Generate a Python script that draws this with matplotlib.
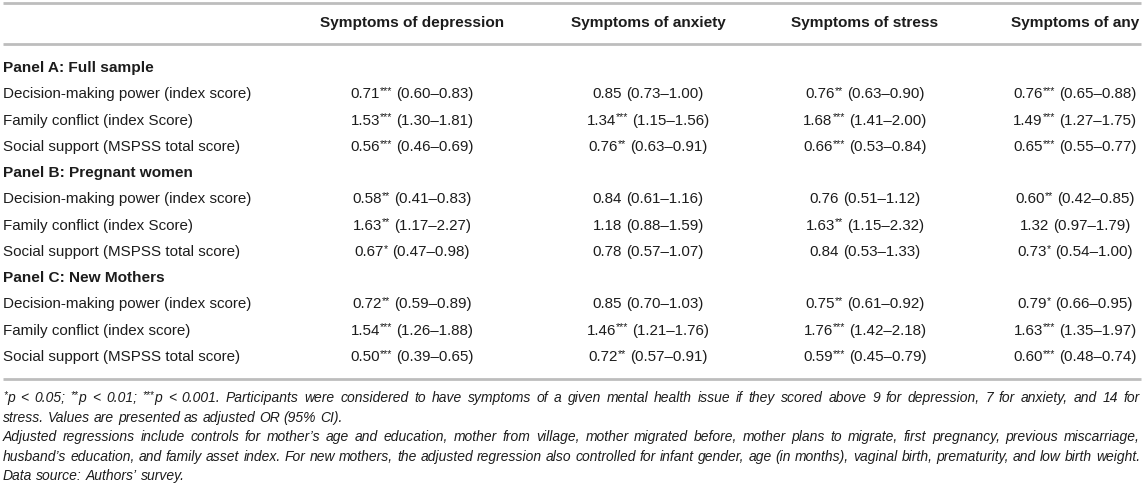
import matplotlib
matplotlib.use("Agg")
import matplotlib.pyplot as plt

plt.rcParams['font.family'] = ['Liberation Sans', 'DejaVu Sans']

columns = ["Symptoms of depression", "Symptoms of anxiety", "Symptoms of stress", "Symptoms of any"]
panels = ["Panel A: Full sample", "Panel B: Pregnant women", "Panel C: New Mothers"]
row_labels = [
    ["Decision-making power (index score)", "Family conflict (index Score)", "Social support (MSPSS total score)"],
    ["Decision-making power (index score)", "Family conflict (index Score)", "Social support (MSPSS total score)"],
    ["Decision-making power (index score)", "Family conflict (index score)", "Social support (MSPSS total score)"],
]

# Adjusted OR, lower CI, upper CI, significance stars; rows in panel order (A1..A3, B1..B3, C1..C3)
depression_or = [0.71, 1.53, 0.56, 0.58, 1.63, 0.67, 0.72, 1.54, 0.50]
depression_lo = [0.60, 1.30, 0.46, 0.41, 1.17, 0.47, 0.59, 1.26, 0.39]
depression_hi = [0.83, 1.81, 0.69, 0.83, 2.27, 0.98, 0.89, 1.88, 0.65]
depression_st = ["***", "***", "***", "**", "**", "*", "**", "***", "***"]

anxiety_or = [0.85, 1.34, 0.76, 0.84, 1.18, 0.78, 0.85, 1.46, 0.72]
anxiety_lo = [0.73, 1.15, 0.63, 0.61, 0.88, 0.57, 0.70, 1.21, 0.57]
anxiety_hi = [1.00, 1.56, 0.91, 1.16, 1.59, 1.07, 1.03, 1.76, 0.91]
anxiety_st = ["", "***", "**", "", "", "", "", "***", "**"]

stress_or = [0.76, 1.68, 0.66, 0.76, 1.63, 0.84, 0.75, 1.76, 0.59]
stress_lo = [0.63, 1.41, 0.53, 0.51, 1.15, 0.53, 0.61, 1.42, 0.45]
stress_hi = [0.90, 2.00, 0.84, 1.12, 2.32, 1.33, 0.92, 2.18, 0.79]
stress_st = ["**", "***", "***", "", "**", "", "**", "***", "***"]

any_or = [0.76, 1.49, 0.65, 0.60, 1.32, 0.73, 0.79, 1.63, 0.60]
any_lo = [0.65, 1.27, 0.55, 0.42, 0.97, 0.54, 0.66, 1.35, 0.48]
any_hi = [0.88, 1.75, 0.77, 0.85, 1.79, 1.00, 0.95, 1.97, 0.74]
any_st = ["***", "***", "***", "**", "", "*", "*", "***", "***"]

# footnote lines; leading asterisks of a word are set as superscript; True = justified line
footnotes = [
    ("*p < 0.05; **p < 0.01; ***p < 0.001. Participants were considered to have symptoms of a given mental health issue if they scored above 9 for depression, 7 for anxiety, and 14 for", True),
    ("stress. Values are presented as adjusted OR (95% CI).", False),
    ("Adjusted regressions include controls for mother\u2019s age and education, mother from village, mother migrated before, mother plans to migrate, first pregnancy, previous miscarriage,", True),
    ("husband\u2019s education, and family asset index. For new mothers, the adjusted regression also controlled for infant gender, age (in months), vaginal birth, prematurity, and low birth weight.", True),
    ("Data source: Authors\u2019 survey.", False),
]

series = [
    (depression_or, depression_lo, depression_hi, depression_st),
    (anxiety_or, anxiety_lo, anxiety_hi, anxiety_st),
    (stress_or, stress_lo, stress_hi, stress_st),
    (any_or, any_lo, any_hi, any_st),
]

W, H = 1144, 486
fig = plt.figure(figsize=(W / 100, H / 100), dpi=100)
ax = fig.add_axes([0, 0, 1, 1])
ax.set_xlim(0, W)
ax.set_ylim(H, 0)
ax.axis("off")
renderer = fig.canvas.get_renderer()

TXT = "#1c1c1c"
LINE = "#bdbdbd"
col_x = [412, 648, 865, 1075]
label_x = 3
fs = 10.9
fs_bold = 11.1
sup_ratio = 0.72
sup_raise = 4.0
LEFT, RIGHT = 3, 1140


def text_width(s, size, style="normal", weight="normal"):
    t = ax.text(0, 0, s, fontsize=size, style=style, fontweight=weight)
    w = t.get_window_extent(renderer).width
    t.remove()
    return w


def space_width(size, style="normal"):
    return text_width("0 0", size, style) - text_width("00", size, style)


def word_parts(word):
    stars = len(word) - len(word.lstrip("*"))
    parts = []
    if stars:
        parts.append((word[:stars], True))
    if word[stars:]:
        parts.append((word[stars:], False))
    return parts


def parts_width(parts, size, style):
    return sum(text_width(s, size * (sup_ratio if sup else 1), style) for s, sup in parts)


def draw_run(x, baseline, parts, size, style="normal"):
    cur = x
    for s, sup in parts:
        sz = size * sup_ratio if sup else size
        ax.text(cur, baseline - (sup_raise * sz / size / sup_ratio if sup else 0), s,
                ha="left", va="baseline", fontsize=sz, style=style, color=TXT)
        cur += text_width(s, sz, style)
    return cur


# rules
for y in (3, 44, 379):
    ax.plot([3, 1141], [y, y], color=LINE, lw=2, solid_capstyle="butt")

base_off = 5
# header
for cx, name in zip(col_x, columns):
    ax.text(cx, 22 + base_off, name, ha="center", va="baseline", fontsize=fs_bold,
            fontweight="bold", color=TXT)

sp_body = space_width(fs)
y = 67
step = 26.25
idx = 0
for p, panel in enumerate(panels):
    ax.text(label_x, y + base_off, panel, ha="left", va="baseline", fontsize=fs_bold,
            fontweight="bold", color=TXT)
    y += step
    for r, lab in enumerate(row_labels[p]):
        ax.text(label_x, y + base_off, lab, ha="left", va="baseline", fontsize=fs, color=TXT)
        for cx, (o, lo, hi, st) in zip(col_x, series):
            head = [(f"{o[idx]:.2f}", False)]
            if st[idx]:
                head.append((st[idx], True))
            tail = [(f"({lo[idx]:.2f}\u2013{hi[idx]:.2f})", False)]
            total = parts_width(head, fs, "normal") + sp_body + parts_width(tail, fs, "normal")
            x0 = cx - total / 2
            x1 = draw_run(x0, y + base_off, head, fs)
            draw_run(x1 + sp_body, y + base_off, tail, fs)
        idx += 1
        y += step

# footnotes: pick a size at which every justified line fits the table width, then justify
probe_size = 10.0
width_avail = RIGHT - LEFT
fits = []
for line, just in footnotes:
    words = line.split(" ")
    natural = sum(parts_width(word_parts(w), probe_size, "italic") for w in words) \
        + (len(words) - 1) * space_width(probe_size, "italic")
    fits.append(probe_size * width_avail / natural)
fn_size = min(f for f, (_, j) in zip(fits, footnotes) if j) * 0.995
sp_fn = space_width(fn_size, "italic")

fy = [398, 417.5, 437, 456.5, 476]
for yy, (line, just) in zip(fy, footnotes):
    words = line.split(" ")
    wparts = [word_parts(w) for w in words]
    widths = [parts_width(pp, fn_size, "italic") for pp in wparts]
    gap = sp_fn
    if just and len(words) > 1:
        gap = (width_avail - sum(widths)) / (len(words) - 1)
    cur = LEFT
    for pp, w in zip(wparts, widths):
        draw_run(cur, yy + 4, pp, fn_size, style="italic")
        cur += w + gap

fig.savefig("out.png", dpi=100)
